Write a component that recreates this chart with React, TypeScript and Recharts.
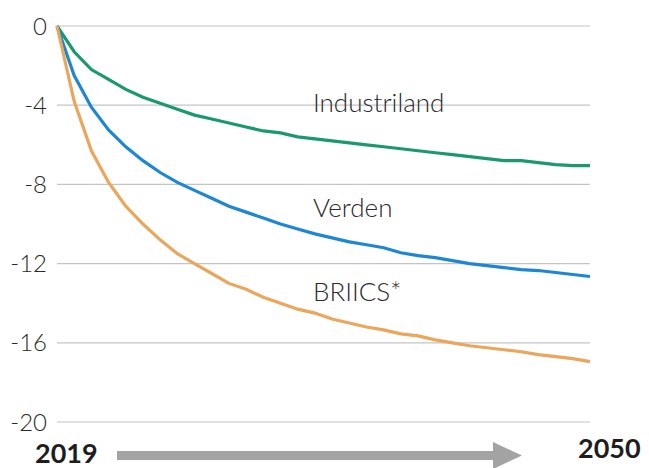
import { LineChart, Line, XAxis, YAxis, CartesianGrid } from "recharts";

const years = [
  2019, 2020, 2021, 2022, 2023, 2024, 2025, 2026, 2027, 2028, 2029, 2030, 2031, 2032, 2033, 2034,
  2035, 2036, 2037, 2038, 2039, 2040, 2041, 2042, 2043, 2044, 2045, 2046, 2047, 2048, 2049, 2050,
];

const industriland = [
  0, -1.3, -2.2, -2.7, -3.2, -3.6, -3.9, -4.2, -4.5, -4.7, -4.9, -5.1, -5.3, -5.4, -5.6, -5.7,
  -5.8, -5.9, -6.0, -6.1, -6.2, -6.3, -6.4, -6.5, -6.6, -6.7, -6.8, -6.8, -6.9, -7.0, -7.05, -7.05,
];

const verden = [
  0, -2.5, -4.1, -5.25, -6.1, -6.8, -7.4, -7.9, -8.3, -8.7, -9.1, -9.4, -9.7, -10.0, -10.25, -10.5,
  -10.7, -10.9, -11.05, -11.2, -11.45, -11.6, -11.7, -11.85, -12.0, -12.1, -12.2, -12.3, -12.35, -12.45, -12.55, -12.65,
];

const briics = [
  0, -3.8, -6.3, -7.9, -9.1, -10.0, -10.8, -11.5, -12.0, -12.5, -13.0, -13.3, -13.7, -14.0, -14.3, -14.5,
  -14.8, -15.0, -15.2, -15.35, -15.55, -15.65, -15.85, -16.0, -16.15, -16.25, -16.35, -16.45, -16.6, -16.7, -16.8, -16.95,
];

const yTicks = [0, -4, -8, -12, -16, -20];

const data = years.map((year, i) => ({
  year,
  industriland: industriland[i],
  verden: verden[i],
  briics: briics[i],
}));

const font = "Lato, 'Open Sans', sans-serif";

export default function App() {
  return (
    <div style={{ position: "absolute", left: 0, top: 0, width: 649, height: 468, background: "#fff" }}>
      <LineChart
        width={649}
        height={468}
        data={data}
        margin={{ top: 26, right: 59, bottom: 46, left: 7 }}
      >
        <CartesianGrid vertical={false} stroke="#c4c4c4" strokeWidth={1.2} />
        <XAxis dataKey="year" type="number" domain={[2019, 2050]} hide height={0} />
        <YAxis
          domain={[-20, 0]}
          ticks={yTicks}
          width={50}
          axisLine={false}
          tickLine={false}
          tickMargin={4}
          tick={{ fill: "#2a2a2a", fontSize: 24, fontFamily: font, fontWeight: 300 }}
        />
        <Line dataKey="industriland" stroke="#1a9a6c" strokeWidth={3.2} dot={false} isAnimationActive={false} />
        <Line dataKey="verden" stroke="#1d87d2" strokeWidth={3.2} dot={false} isAnimationActive={false} />
        <Line dataKey="briics" stroke="#eaa65a" strokeWidth={3.2} dot={false} isAnimationActive={false} />
      </LineChart>
      <svg
        width={649}
        height={468}
        style={{ position: "absolute", left: 0, top: 0, pointerEvents: "none" }}
      >
        <g fontFamily={font} fontSize={26} fontWeight={300} fill="#2a2a2a">
          <text x={313} y={112}>Industriland</text>
          <text x={313} y={217}>Verden</text>
          <text x={313} y={301}>BRIICS*</text>
        </g>
        <g fontFamily={font} fontSize={27} fontWeight={700} fill="#1e1e1e">
          <text x={35} y={463}>2019</text>
          <text x={578} y={458}>2050</text>
        </g>
        <rect x={117} y={451} width={380} height={9} fill="#a3a3a3" />
        <polygon points="493,442 522,455.5 493,469" fill="#a3a3a3" />
      </svg>
    </div>
  );
}
